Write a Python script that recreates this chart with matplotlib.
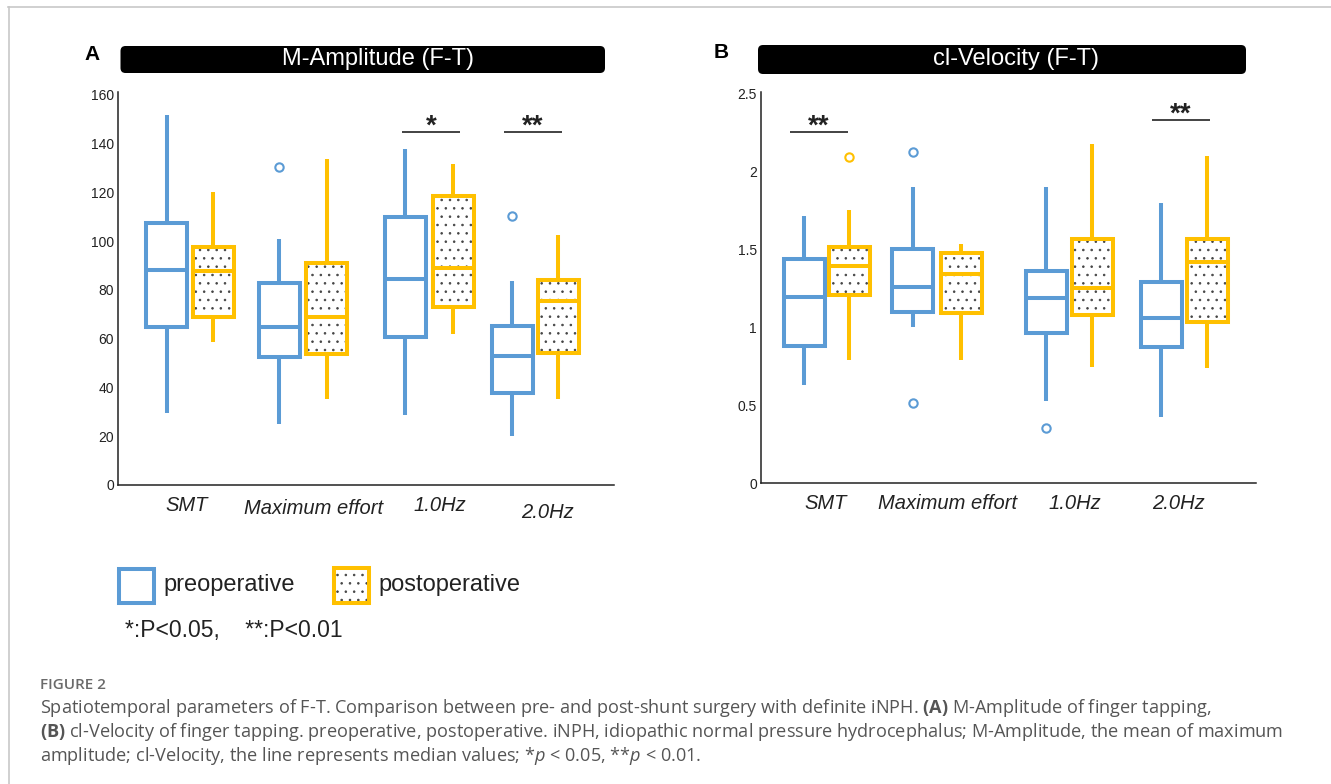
import matplotlib
matplotlib.use('Agg')
import matplotlib.pyplot as plt
from matplotlib.patches import Rectangle, FancyBboxPatch
from matplotlib.lines import Line2D
from matplotlib.transforms import IdentityTransform

plt.rcParams['font.family'] = ['Liberation Sans', 'DejaVu Sans']
plt.rcParams['mathtext.fontset'] = 'custom'
plt.rcParams['mathtext.rm'] = 'Open Sans'
plt.rcParams['mathtext.it'] = 'Open Sans:italic'
plt.rcParams['mathtext.bf'] = 'Open Sans:bold'
plt.rcParams['hatch.linewidth'] = 0.6

BLUE = '#5b9bd5'
GOLD = '#ffc000'
W, H = 1331, 784

conditions = ['SMT', 'Maximum effort', '1.0Hz', '2.0Hz']

# M-Amplitude (F-T): lower whisker, q1, median, q3, upper whisker, outliers
amp_pre_lo = [29.7, 24.9, 28.7, 20.2]
amp_pre_q1 = [65.0, 52.6, 60.9, 37.6]
amp_pre_med = [88.2, 64.7, 84.6, 52.9]
amp_pre_q3 = [107.3, 82.7, 110.0, 65.4]
amp_pre_hi = [151.8, 100.8, 137.8, 83.7]
amp_pre_out = [[], [130.6], [], [110.4]]

amp_post_lo = [58.8, 35.1, 61.9, 35.3]
amp_post_q1 = [69.0, 53.6, 73.2, 54.0]
amp_post_med = [87.8, 69.0, 88.9, 75.6]
amp_post_q3 = [97.5, 91.2, 118.7, 84.1]
amp_post_hi = [120.0, 133.7, 131.7, 102.6]
amp_post_out = [[], [], [], []]

# cl-Velocity (F-T)
vel_pre_lo = [0.63, 1.00, 0.528, 0.427]
vel_pre_q1 = [0.882, 1.10, 0.962, 0.876]
vel_pre_med = [1.197, 1.261, 1.19, 1.058]
vel_pre_q3 = [1.438, 1.502, 1.363, 1.293]
vel_pre_hi = [1.714, 1.902, 1.902, 1.795]
vel_pre_out = [[], [2.122, 0.517], [0.357], []]

vel_post_lo = [0.791, 0.79, 0.744, 0.737]
vel_post_q1 = [1.207, 1.09, 1.079, 1.036]
vel_post_med = [1.395, 1.34, 1.25, 1.417]
vel_post_q3 = [1.513, 1.474, 1.564, 1.564]
vel_post_hi = [1.752, 1.534, 2.173, 2.098]
vel_post_out = [[2.094], [], [], []]

# significance marks: (condition index, stars, bar height)
amp_sig = [(2, '*', 144.7), (3, '**', 144.7)]
vel_sig = [(0, '**', 2.25), (3, '**', 2.329)]


def stats(lo, q1, med, q3, hi, out):
    return [dict(whislo=a, q1=b, med=c, q3=d, whishi=e, fliers=f)
            for a, b, c, d, e, f in zip(lo, q1, med, q3, hi, out)]


def fx(x):
    return x / W


def fy(y):
    return 1 - y / H


def draw_boxes(ax, st, pos, color, dotted, width=41):
    lw = 2.9
    ax.bxp(st, positions=pos, widths=width, patch_artist=True, showcaps=False,
           boxprops=dict(facecolor='none', edgecolor=color, linewidth=lw),
           whiskerprops=dict(color=color, linewidth=lw, solid_capstyle='butt'),
           medianprops=dict(color=color, linewidth=lw),
           flierprops=dict(marker='o', markerfacecolor='none', markeredgecolor=color,
                           markersize=6, markeredgewidth=1.5),
           manage_ticks=False)
    if dotted:
        for p, s in zip(pos, st):
            ax.add_patch(Rectangle((p - width / 2, s['q1']), width, s['q3'] - s['q1'],
                                   facecolor='none', edgecolor='#444444', lw=0,
                                   hatch='..', zorder=1.5))


def panel(rect, ylim, yticks, yticklabels, pre, post, pos_pre, pos_post,
          label_pos, sig, sig_span, label_pads):
    ax = fig.add_axes(rect)
    draw_boxes(ax, pre, pos_pre, BLUE, False)
    draw_boxes(ax, post, pos_post, GOLD, True)
    ax.set_xlim(0, rect[2] * W)
    ax.set_ylim(*ylim)
    ax.set_yticks(yticks)
    ax.set_yticklabels(yticklabels)
    ax.set_xticks(label_pos)
    ax.set_xticklabels(conditions, fontsize=14.5, style='italic', color='#222222')
    ax.tick_params(axis='both', length=0)
    ax.tick_params(axis='y', labelsize=10, pad=3, colors='#222222')
    for t, p in zip(ax.xaxis.get_major_ticks(), label_pads):
        t.set_pad(p)
    for s in ['top', 'right']:
        ax.spines[s].set_visible(False)
    for s in ['left', 'bottom']:
        ax.spines[s].set_linewidth(1.1)
        ax.spines[s].set_color('#222222')
    for (i, stars, yv), (x0, x1) in zip(sig, sig_span):
        ax.plot([x0, x1], [yv, yv], color='#222222', lw=1.2, solid_capstyle='butt')
        ax.annotate(stars, xy=((x0 + x1) / 2, yv), xytext=(0, -1), textcoords='offset points',
                    ha='center', va='baseline', fontsize=20, fontweight='bold', color='#222222')
    return ax


fig = plt.figure(figsize=(W / 100, H / 100), dpi=100)

# panel A
panel([fx(118), fy(485), 496 / W, 393 / H], (0, 161.2),
      [0, 20, 40, 60, 80, 100, 120, 140, 160],
      ['0', '20', '40', '60', '80', '100', '120', '140', '160'],
      stats(amp_pre_lo, amp_pre_q1, amp_pre_med, amp_pre_q3, amp_pre_hi, amp_pre_out),
      stats(amp_post_lo, amp_post_q1, amp_post_med, amp_post_q3, amp_post_hi, amp_post_out),
      [48.5, 161, 287, 394], [95, 208.5, 335, 440],
      [69, 196, 322, 429], amp_sig, [(284, 342), (386, 444)], [8, 10, 8, 13])

# panel B
panel([fx(761), fy(483.3), 495 / W, 391.3 / H], (0, 2.508),
      [0, 0.5, 1, 1.5, 2, 2.5], ['0', '0.5', '1', '1.5', '2', '2.5'],
      stats(vel_pre_lo, vel_pre_q1, vel_pre_med, vel_pre_q3, vel_pre_hi, vel_pre_out),
      stats(vel_post_lo, vel_post_q1, vel_post_med, vel_post_q3, vel_post_hi, vel_post_out),
      [43, 151.5, 285, 400], [88, 200, 331, 446],
      [65, 187, 314, 418], vel_sig, [(29, 87), (390.5, 449)], [8, 8, 8, 8])

# title bars
for (x0, x1, y0, y1), txt, tx, letter, lx, ly in [
        ((120.5, 605, 46, 73), 'M-Amplitude (F-T)', 378, 'A', 92, 55),
        ((758, 1246, 45, 74), 'cl-Velocity (F-T)', 1016, 'B', 721, 53)]:
    fig.add_artist(FancyBboxPatch((x0, H - y1), x1 - x0, y1 - y0,
                                  boxstyle='round,pad=0,rounding_size=5',
                                  transform=IdentityTransform(), facecolor='black',
                                  edgecolor='none'))
    fig.text(fx(tx), fy((y0 + y1) / 2), txt, color='white', fontsize=17,
             ha='center', va='center')
    fig.text(fx(lx), fy(ly), letter, fontsize=15, fontweight='bold', ha='center', va='center')

# legend
fig.add_artist(Rectangle((119, H - 603), 35, 34, transform=IdentityTransform(),
                         facecolor='none', edgecolor=BLUE, lw=2.9))
fig.add_artist(Rectangle((334, H - 603), 35, 35, transform=IdentityTransform(),
                         facecolor='none', edgecolor='#444444', lw=0, hatch='..'))
fig.add_artist(Rectangle((334, H - 603), 35, 35, transform=IdentityTransform(),
                         facecolor='none', edgecolor=GOLD, lw=2.9))
fig.text(fx(163), fy(585), 'preoperative', fontsize=17, va='center', color='#222222')
fig.text(fx(378), fy(585), 'postoperative', fontsize=17, va='center', color='#222222')
fig.text(fx(125), fy(630), '*:P<0.05,    **:P<0.01', fontsize=16.5, va='center',
         color='#222222')

# caption
cap = dict(family='Open Sans', fontsize=13.1, color='#555555', va='center')
fig.text(fx(40), fy(685), 'FIGURE 2', family='Open Sans', fontsize=11,
         fontweight='semibold', color='#6a6a6a', va='center')
fig.text(fx(40), fy(708),
         'Spatiotemporal parameters of F-T. Comparison between pre- and post-shunt surgery '
         r'with definite iNPH. $\mathbf{(A)}$ M-Amplitude of finger tapping,', **cap)
fig.text(fx(40), fy(732),
         r'$\mathbf{(B)}$ cl-Velocity of finger tapping. preoperative, postoperative. iNPH, '
         'idiopathic normal pressure hydrocephalus; M-Amplitude, the mean of maximum', **cap)
fig.text(fx(40), fy(756),
         r'amplitude; cl-Velocity, the line represents median values; *$p$ < 0.05, **$p$ < 0.01.',
         **cap)

# page frame
fig.add_artist(Line2D([fx(8), 1], [fy(7), fy(7)], color='#c8c8c8', lw=1.2))
fig.add_artist(Line2D([fx(9), fx(9)], [fy(7), 0], color='#c8c8c8', lw=1.2))

fig.savefig('out.png', dpi=100)
